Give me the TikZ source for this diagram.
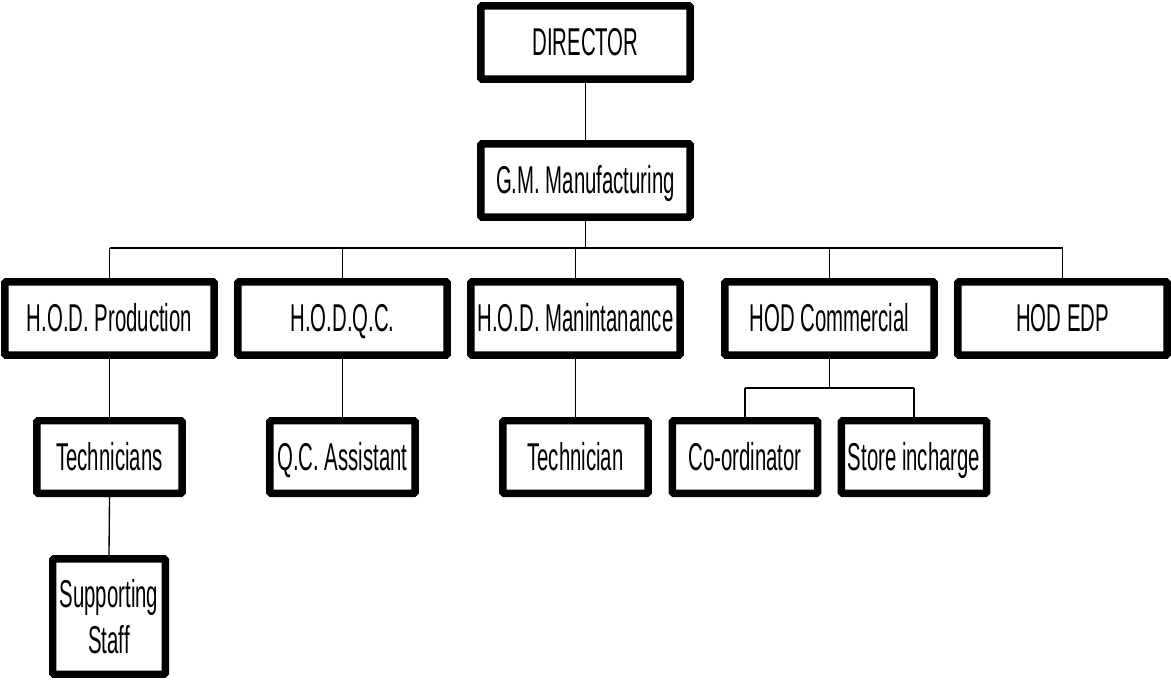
\documentclass[tikz,border=0pt]{standalone}
\usepackage{fontspec}
\setmainfont[FakeStretch=0.525]{Liberation Sans}
\usetikzlibrary{calc}
\tikzset{
 unit/.style={draw,line width=5.6pt,rounded corners=1pt,align=center,
             inner sep=0pt,font=\fontsize{29.1}{34}\selectfont},
 box/.style={unit,minimum width=157pt,minimum height=55pt,
             text height=20pt,text depth=0pt},
 smallbox/.style={box,minimum width=109pt,minimum height=54.4pt},
 link/.style={line width=1pt}
}
\begin{document}
\begin{tikzpicture}[x=0.75pt,y=-0.75pt]
\useasboundingbox (0,0) rectangle (1171,679);
\coordinate (bus) at (0,248);
\coordinate (subbus) at (0,388);
\node[box] (dir) at (585.5,42.5) {DIRECTOR};
\node[box] (gm) at (585.5,180.5) {G.M. Manufacturing};
\node[box] (prod) at (109.5,318.5) {H.O.D. Production};
\node[box] (hqc) at (342.5,318.5) {H.O.D.Q.C.};
\node[box] (maint) at (575.5,318.5) {H.O.D. Manintanance};
\node[box] (comm) at (829.5,318.5) {HOD Commercial};
\node[box] (edp) at (1062.5,318.5) {HOD EDP};
\node[smallbox] (techs) at (109.5,457) {Technicians};
\node[smallbox] (qca) at (342.5,457) {Q.C. Assistant};
\node[smallbox] (tech) at (575.5,457) {Technician};
\node[smallbox] (coord) at (745,457) {Co-ordinator};
\node[smallbox] (store) at (914,457) {Store incharge};
\node[unit,minimum width=84.4pt,minimum height=86.6pt] (staff) at (109,616.5) {Supporting\\Staff};
% connectors
\begin{scope}[on background layer/.try]
\draw[link] (dir.south) -- (gm.north);
\draw[link] (gm.south) -- (gm.south |- bus);
\draw[link] (prod.north |- bus) -- (edp.north |- bus);
\foreach \n in {prod,hqc,maint,comm,edp}
  \draw[link] (\n.north |- bus) -- (\n.north);
\draw[link] (prod.south) -- (techs.north);
\draw[link] (techs.south) -- (staff.north);
\draw[link] (hqc.south) -- (qca.north);
\draw[link] (maint.south) -- (tech.north);
\draw[link] (comm.south) -- (comm.south |- subbus);
\draw[link] (coord.north |- subbus) -- (store.north |- subbus);
\draw[link] (coord.north |- subbus) -- (coord.north);
\draw[link] (store.north |- subbus) -- (store.north);
\end{scope}
\end{tikzpicture}
\end{document}
